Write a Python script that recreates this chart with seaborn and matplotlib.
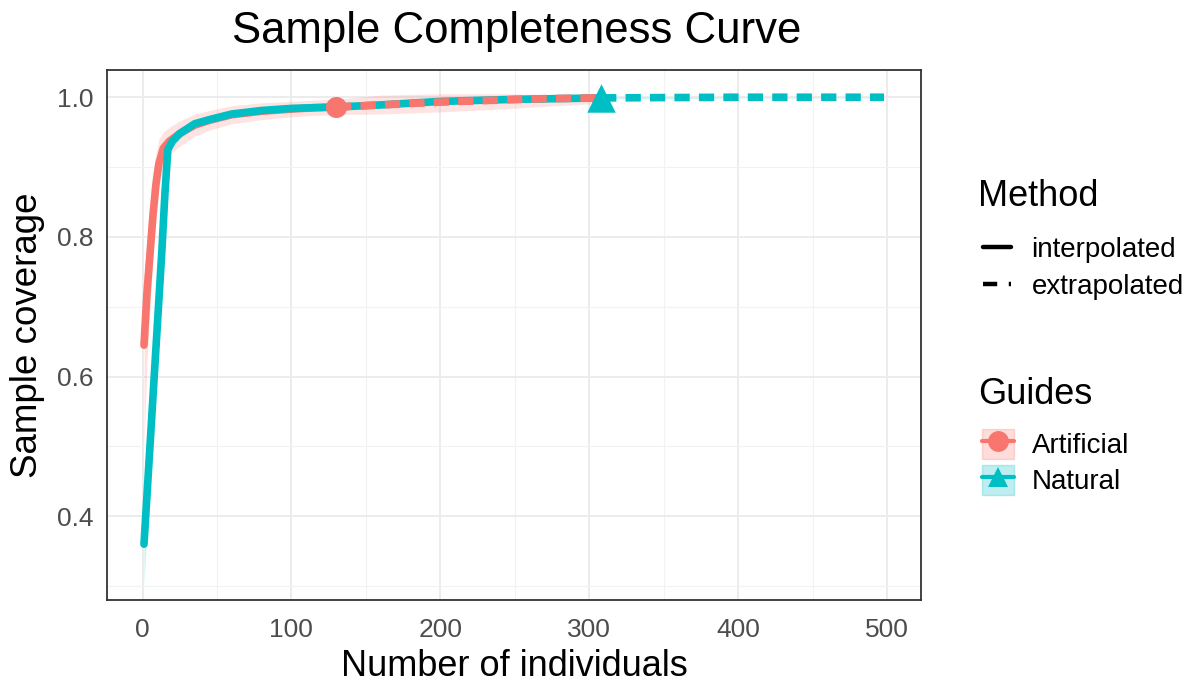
import numpy as np
import pandas as pd
import matplotlib
matplotlib.use("Agg")
import matplotlib.pyplot as plt
import seaborn as sns
from matplotlib.lines import Line2D
from matplotlib.patches import Patch

# ---------------- data ----------------
art_interp_m = [1, 3, 5, 7, 9, 11, 14, 18, 25, 35, 45, 60, 80, 100, 115, 130]
art_interp_y = [0.645, 0.72, 0.775, 0.83, 0.875, 0.905, 0.927, 0.937, 0.948, 0.96, 0.967, 0.975, 0.980, 0.983, 0.985, 0.986]
art_interp_lo = [0.50, 0.62, 0.70, 0.77, 0.83, 0.87, 0.905, 0.918, 0.93, 0.944, 0.953, 0.962, 0.968, 0.972, 0.974, 0.975]
art_interp_hi = [0.74, 0.80, 0.85, 0.89, 0.92, 0.94, 0.95, 0.957, 0.966, 0.976, 0.981, 0.988, 0.992, 0.994, 0.996, 0.997]

art_extrap_m = [130, 160, 200, 240, 270, 305]
art_extrap_y = [0.986, 0.989, 0.993, 0.996, 0.998, 0.999]
art_extrap_lo = [0.975, 0.976, 0.979, 0.983, 0.987, 0.991]
art_extrap_hi = [0.997, 1.003, 1.005, 1.005, 1.004, 1.003]

nat_interp_m = [1, 3, 5, 7, 9, 11, 13, 15, 17, 20, 25, 35, 45, 60, 80, 100, 130, 160, 200, 250, 308]
nat_interp_y = [0.36, 0.43, 0.50, 0.57, 0.64, 0.71, 0.78, 0.86, 0.925, 0.937, 0.948, 0.962, 0.968, 0.976, 0.981, 0.984, 0.986, 0.989, 0.994, 0.997, 0.999]
nat_interp_lo = [0.30, 0.38, 0.46, 0.53, 0.61, 0.68, 0.75, 0.84, 0.91, 0.928, 0.941, 0.956, 0.963, 0.972, 0.978, 0.981, 0.984, 0.987, 0.992, 0.995, 0.998]
nat_interp_hi = [0.42, 0.48, 0.54, 0.61, 0.67, 0.74, 0.81, 0.88, 0.94, 0.946, 0.955, 0.968, 0.973, 0.980, 0.984, 0.987, 0.988, 0.991, 0.996, 0.999, 1.0]

nat_extrap_m = [308, 350, 400, 450, 498]
nat_extrap_y = [0.999, 0.9995, 1.0, 1.0, 1.0]
nat_extrap_lo = [0.998, 0.998, 0.999, 0.999, 0.999]
nat_extrap_hi = [1.0, 1.0, 1.0, 1.0, 1.0]

ref_m = [130, 308]
ref_y = [0.986, 0.999]
guides = ["Artificial", "Natural"]
methods = ["interpolated", "extrapolated"]

x_ticks = [0, 100, 200, 300, 400, 500]
y_ticks = [0.4, 0.6, 0.8, 1.0]

colors = {"Artificial": "#F8766D", "Natural": "#00BFC4"}
markers = {"Artificial": "o", "Natural": "^"}

rows = []
def add(g, meth, m, y, lo, hi):
    for a, b, c, d in zip(m, y, lo, hi):
        rows.append(dict(m=a, qD=b, lo=c, hi=d, Guides=g, Method=meth))
add("Artificial", "interpolated", art_interp_m, art_interp_y, art_interp_lo, art_interp_hi)
add("Artificial", "extrapolated", art_extrap_m, art_extrap_y, art_extrap_lo, art_extrap_hi)
add("Natural", "interpolated", nat_interp_m, nat_interp_y, nat_interp_lo, nat_interp_hi)
add("Natural", "extrapolated", nat_extrap_m, nat_extrap_y, nat_extrap_lo, nat_extrap_hi)
df = pd.DataFrame(rows)
ref_df = pd.DataFrame(dict(m=ref_m, qD=ref_y, Guides=guides))

# ---------------- style ----------------
sns.set_theme(style="whitegrid")
plt.rcParams["font.family"] = ["Liberation Sans", "DejaVu Sans"]
plt.rcParams["text.color"] = "black"

W, H = 1198, 687
fig = plt.figure(figsize=(W / 100, H / 100), dpi=100)
ax = fig.add_axes([107 / W, 1 - 600 / H, (921 - 107) / W, (600 - 70) / H])
ax.set_facecolor("white")

# ribbons
for g in guides:
    sub = df[df.Guides == g].sort_values("m")
    ax.fill_between(sub.m, sub.lo, sub.hi, color=colors[g], alpha=0.2, linewidth=0, zorder=2)

LW = 5.5
dash = (0, (2.0, 1.2))
z = 3
for meth in methods:
    for g in guides:
        sub = df[(df.Guides == g) & (df.Method == meth)]
        sns.lineplot(data=sub, x="m", y="qD", ax=ax, color=colors[g], linewidth=LW,
                     linestyle="-" if meth == "interpolated" else dash,
                     estimator=None, sort=True, legend=False, zorder=z)
        z += 1

for g in guides:
    sub = ref_df[ref_df.Guides == g]
    sns.scatterplot(data=sub, x="m", y="qD", ax=ax, color=colors[g], marker=markers[g],
                    s=230 if g == "Artificial" else 420, linewidth=0, legend=False, zorder=10)

ax.set_xlim(-23.85, 522.85)
ax.set_ylim(0.28, 1.039)
ax.set_xticks(x_ticks)
ax.set_yticks(y_ticks)
ax.set_xticklabels([str(v) for v in x_ticks])
ax.set_yticklabels([f"{v:.1f}" for v in y_ticks])
ax.set_xticks([50, 150, 250, 350, 450], minor=True)
ax.set_yticks([0.3, 0.5, 0.7, 0.9], minor=True)
ax.grid(True, which="major", color="#EBEBEB", linewidth=1.3)
ax.grid(True, which="minor", color="#F2F2F2", linewidth=0.8)
ax.set_axisbelow(True)
for sp in ax.spines.values():
    sp.set_color("#333333")
    sp.set_linewidth(1.3)
    sp.set_visible(True)
ax.tick_params(axis="both", which="major", length=5, width=1.3, color="#333333",
               labelsize=19, labelcolor="#4D4D4D", pad=5)
ax.tick_params(axis="x", which="major", pad=8)
ax.tick_params(axis="both", which="minor", length=0)
ax.set_xlabel("Number of individuals", fontsize=26, color="black", labelpad=5)
ax.set_ylabel("Sample coverage", fontsize=26.5, color="black", labelpad=8)
fig.text(517 / W, 1 - 31 / H, "Sample Completeness Curve", fontsize=31.5,
         ha="center", va="center", color="black")

# legends
LFS = 20
fig.text(978 / W, 1 - 197 / H, "Method", fontsize=26, ha="left", va="center", color="black")
meth_handles = [Line2D([], [], color="black", linewidth=3.2, linestyle="-"),
                Line2D([], [], color="black", linewidth=3.2, linestyle=(0, (3.2, 2.6)))]
leg1 = fig.legend(meth_handles, methods, loc="upper left",
                  bbox_to_anchor=(969 / W, 1 - 223 / H), frameon=False, borderpad=0,
                  fontsize=LFS, handlelength=1.0, handletextpad=0.75,
                  labelspacing=0.4)

fig.text(978 / W, 1 - 395 / H, "Guides", fontsize=26, ha="left", va="center", color="black")
g_handles = []
for g in guides:
    patch = Patch(facecolor=colors[g], alpha=0.25, edgecolor=colors[g], linewidth=1)
    ln = Line2D([], [], color=colors[g], linewidth=3, marker=markers[g], markersize=15,
                markeredgewidth=0)
    g_handles.append((patch, ln))
leg2 = fig.legend(g_handles, guides, loc="upper left",
                  bbox_to_anchor=(968 / W, 1 - 415 / H), frameon=False, borderpad=0,
                  fontsize=LFS, handlelength=1.15, handleheight=1.3,
                  handletextpad=0.65, labelspacing=0.2)

fig.savefig("out.png", dpi=100)
